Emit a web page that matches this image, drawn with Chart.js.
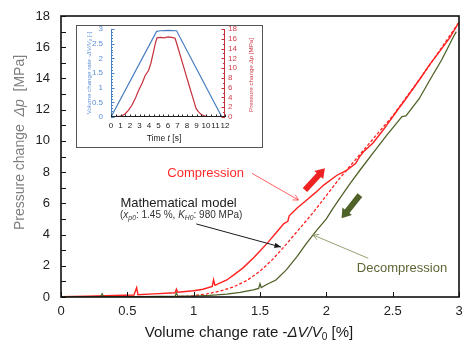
<!DOCTYPE html>
<html><head><meta charset="utf-8">
<script src="https://cdn.jsdelivr.net/npm/chart.js@4"></script>
<style>
html,body{margin:0;padding:0;background:#fff;}
#wrap{position:relative;width:468px;height:345px;overflow:hidden;background:#fff;}
#main{position:absolute;left:0;top:0;}
#insetBox{position:absolute;left:76px;top:25px;width:185px;height:121px;border:1px solid #555;background:#fff;}
#inset{position:absolute;left:0;top:0;}
</style></head><body>
<div id="wrap">
<canvas id="main" width="468" height="345"></canvas>
<div id="insetBox"><canvas id="inset" width="185" height="121"></canvas></div>
</div>
<script>
// ---------------- data (main chart) ----------------
const compV = [0, 0.2, 0.4, 0.55, 0.57, 0.58, 0.7, 0.86, 0.87, 0.88, 1.0, 1.07, 1.14, 1.15, 1.16, 1.25, 1.3, 1.37, 1.45, 1.5, 1.56, 1.62, 1.68, 1.71, 1.72, 1.78, 1.85, 1.92, 1.98, 2.08, 2.15, 2.22, 2.25, 2.28, 2.35, 2.42, 2.48, 2.53, 2.6, 2.7, 2.78, 2.86, 2.93, 3.0];
const compP = [0.02, 0.05, 0.1, 0.13, 0.6, 0.15, 0.2, 0.27, 0.5, 0.3, 0.4, 0.5, 0.68, 1.1, 0.75, 1.09, 1.4, 1.85, 2.5, 2.95, 3.5, 4.1, 4.7, 4.85, 5.2, 5.7, 6.2, 6.7, 7.17, 7.8, 8.1, 8.55, 8.98, 9.3, 9.85, 10.6, 11.3, 11.9, 12.7, 13.9, 14.9, 15.8, 16.6, 17.6];
const modelV = [0, 0.5, 0.9, 1.0, 1.1, 1.2, 1.3, 1.4, 1.5, 1.6, 1.7, 1.8, 1.9, 2.0, 2.1, 2.2, 2.3, 2.5, 2.75, 3.0];
const modelP = [0, 0, 0.02, 0.08, 0.2, 0.38, 0.65, 1.05, 1.65, 2.45, 3.4, 4.4, 5.4, 6.5, 7.6, 8.6, 9.6, 11.6, 14.5, 17.6];
const decV = [0, 0.3, 0.31, 0.32, 0.6, 0.86, 0.87, 0.88, 1.0, 1.12, 1.25, 1.35, 1.45, 1.49, 1.5, 1.51, 1.55, 1.62, 1.7, 1.78, 1.85, 1.93, 2.0, 2.05, 2.1, 2.18, 2.26, 2.35, 2.45, 2.55, 2.57, 2.6, 2.7, 2.78, 2.87, 2.96, 2.98];
const decP = [0, 0.02, 0.2, 0.02, 0.03, 0.05, 0.25, 0.05, 0.06, 0.1, 0.18, 0.3, 0.45, 0.55, 0.85, 0.6, 0.8, 1.09, 1.75, 2.6, 3.44, 4.3, 5.0, 5.68, 6.3, 7.28, 8.2, 9.2, 10.3, 11.35, 11.55, 11.6, 12.7, 13.9, 15.2, 16.7, 17.0];

// ---------------- data (inset) ----------------
const insetTimeV = [0, 4.8, 5.2, 6.0, 6.9, 11.67];
const insetVol = [0, 2.92, 2.94, 2.95, 2.94, 0];
const insetTimeP = [0, 0.5, 1.0, 1.2, 1.5, 1.8, 2.2, 2.6, 2.9, 3.3, 3.6, 3.95, 4.2, 4.47, 4.7, 4.85, 5.2, 5.6, 6.0, 6.4, 6.75, 7.2, 7.7, 8.2, 8.7, 8.96, 9.2, 9.5, 9.8, 10.2, 11, 12];
const insetP = [0, 0.1, 0.2, 0.3, 0.67, 1.3, 2.4, 4.0, 5.4, 7.0, 8.5, 9.5, 11.0, 13.3, 15.3, 16.2, 16.3, 16.2, 16.4, 16.3, 16.1, 13.2, 9.9, 6.6, 3.4, 1.7, 1.1, 0.5, 0.25, 0.1, 0.1, 0.05];

// axis ranges
const xMain = {min: 0, max: 3, step: 0.5};
const yMain = {min: 0, max: 18, step: 1, labelEvery: 2};

const FAM = "'Liberation Sans', Arial, Helvetica, sans-serif";
Chart.defaults.font.family = FAM;

const zip = (a, b) => a.map((v, i) => ({x: v, y: b[i]}));
const fmt = v => String(Math.round(v * 10) / 10);
const noGrid = {display: false, drawTicks: false};

function segFont(s, size) {
  return (s.it ? 'italic ' : '') + (s.sub ? size * 0.68 : size) + 'px ' + FAM;
}
function drawRich(ctx, segs, x, y, size, color, align) {
  let w = 0;
  for (const s of segs) { ctx.font = segFont(s, size); w += ctx.measureText(s.t).width; }
  let cx = align === 'center' ? x - w / 2 : (align === 'right' ? x - w : x);
  ctx.fillStyle = color; ctx.textBaseline = 'middle'; ctx.textAlign = 'left';
  for (const s of segs) {
    ctx.font = segFont(s, size);
    ctx.fillText(s.t, cx, y + (s.sub ? size * 0.3 : 0));
    cx += ctx.measureText(s.t).width;
  }
}
function arrowLine(ctx, x1, y1, x2, y2, color, lw, hl, filled) {
  const a = Math.atan2(y2 - y1, x2 - x1);
  ctx.save();
  ctx.strokeStyle = color; ctx.fillStyle = color; ctx.lineWidth = lw;
  ctx.beginPath(); ctx.moveTo(x1, y1); ctx.lineTo(x2, y2); ctx.stroke();
  const ha = filled ? 0.4 : 0.5;
  const p1 = [x2 - hl * Math.cos(a - ha), y2 - hl * Math.sin(a - ha)];
  const p2 = [x2 - hl * Math.cos(a + ha), y2 - hl * Math.sin(a + ha)];
  ctx.beginPath();
  if (filled) { ctx.moveTo(x2, y2); ctx.lineTo(p1[0], p1[1]); ctx.lineTo(p2[0], p2[1]); ctx.closePath(); ctx.fill(); }
  else { ctx.moveTo(p1[0], p1[1]); ctx.lineTo(x2, y2); ctx.lineTo(p2[0], p2[1]); ctx.stroke(); }
  ctx.restore();
}
function blockArrow(ctx, x1, y1, x2, y2, color, sw, hw, hl) {
  const a = Math.atan2(y2 - y1, x2 - x1);
  const L = Math.hypot(x2 - x1, y2 - y1);
  ctx.save(); ctx.translate(x1, y1); ctx.rotate(a);
  ctx.fillStyle = color;
  ctx.beginPath();
  ctx.moveTo(0, -sw / 2); ctx.lineTo(L - hl, -sw / 2); ctx.lineTo(L - hl, -hw / 2);
  ctx.lineTo(L, 0); ctx.lineTo(L - hl, hw / 2); ctx.lineTo(L - hl, sw / 2); ctx.lineTo(0, sw / 2);
  ctx.closePath(); ctx.fill();
  ctx.restore();
}

// ---------------- main chart ----------------
const mainDecor = {
  id: 'mainDecor',
  afterDraw(chart) {
    const ctx = chart.ctx, ca = chart.chartArea;
    const X = chart.scales.x, Y = chart.scales.y;
    const px = v => X.getPixelForValue(v), py = v => Y.getPixelForValue(v);
    ctx.save();
    // inside tick marks
    ctx.strokeStyle = '#111'; ctx.lineWidth = 1;
    for (const t of Y.ticks) {
      const y = Math.round(py(t.value)) + 0.5;
      ctx.beginPath(); ctx.moveTo(ca.left, y); ctx.lineTo(ca.left + 5, y); ctx.stroke();
    }
    for (const t of X.ticks) {
      const x = Math.round(px(t.value)) + 0.5;
      ctx.beginPath(); ctx.moveTo(x, ca.bottom); ctx.lineTo(x, ca.bottom - 5); ctx.stroke();
    }
    // frame
    ctx.lineWidth = 1.6; ctx.strokeStyle = '#111';
    ctx.strokeRect(ca.left, ca.top, ca.right - ca.left, ca.bottom - ca.top);

    // axis titles
    drawRich(ctx, [{t: 'Volume change rate -'}, {t: 'ΔV/V', it: true}, {t: '0', sub: true}, {t: ' [%]'}],
      (ca.left + ca.right) / 2 - 11, 333, 15, '#1a1a1a', 'center');
    ctx.save();
    ctx.translate(20, (ca.top + ca.bottom) / 2 - 14);
    ctx.rotate(-Math.PI / 2);
    drawRich(ctx, [{t: 'Pressure change  '}, {t: 'Δp', it: true}, {t: '  [MPa]'}], 0, 0, 14, '#7f7f7f', 'center');
    ctx.restore();

    // annotations (anchored in data coordinates)
    drawRich(ctx, [{t: 'Compression'}], px(1.379), py(7.94), 13, '#ff2a2a', 'right');
    arrowLine(ctx, px(1.44), py(7.92), px(1.79), py(6.21), '#ff5050', 0.9, 6, false);
    blockArrow(ctx, px(1.839), py(6.85), px(1.989), py(8.24), '#ee2222', 6, 12, 9);

    drawRich(ctx, [{t: 'Mathematical model'}], px(0.448), py(6.02), 13, '#1a1a1a', 'left');
    drawRich(ctx, [{t: '('}, {t: 'x', it: true}, {t: 'p0', it: true, sub: true}, {t: ': 1.45 %, '},
      {t: 'K', it: true}, {t: 'H0', it: true, sub: true}, {t: ': 980 MPa)'}], px(0.445), py(5.25), 10, '#333', 'left');
    arrowLine(ctx, px(1.02), py(4.68), px(1.658), py(3.20), '#1a1a1a', 1, 7, true);

    blockArrow(ctx, px(2.253), py(6.53), px(2.115), py(5.04), '#4f6228', 6, 12, 9);
    drawRich(ctx, [{t: 'Decompression'}], px(2.23), py(1.86), 13, '#5b6634', 'left');
    arrowLine(ctx, px(2.316), py(2.48), px(1.901), py(3.97), '#8a9560', 0.9, 6, false);
    ctx.restore();
  }
};

new Chart(document.getElementById('main'), {
  type: 'line',
  data: {
    datasets: [
      {data: zip(decV, decP), borderColor: '#4f6228', borderWidth: 1.3},
      {data: zip(modelV, modelP), borderColor: '#ff2020', borderWidth: 1.3, borderDash: [3, 2]},
      {data: zip(compV, compP), borderColor: '#ff2020', borderWidth: 1.4}
    ]
  },
  options: {
    responsive: false, animation: false,
    layout: {padding: {top: 16, right: 9, left: 0, bottom: 0}},
    elements: {point: {radius: 0}, line: {tension: 0}},
    plugins: {legend: {display: false}, tooltip: {enabled: false}},
    scales: {
      x: {
        type: 'linear', min: xMain.min, max: xMain.max,
        ticks: {stepSize: xMain.step, color: '#222', font: {size: 13}, padding: 7, maxRotation: 0, autoSkip: false, callback: fmt},
        grid: noGrid, border: {display: false},
        afterFit(s) { s.height = 48; s.paddingLeft = 0; s.paddingRight = 0; }
      },
      y: {
        type: 'linear', min: yMain.min, max: yMain.max,
        ticks: {stepSize: yMain.step, autoSkip: false, color: '#222', font: {size: 13}, padding: 11,
          callback: v => (v % yMain.labelEvery === 0 ? fmt(v) : '')},
        grid: noGrid, border: {display: false},
        afterFit(s) { s.width = 61; s.paddingTop = 0; s.paddingBottom = 0; }
      }
    }
  },
  plugins: [mainDecor]
});

// ---------------- inset chart ----------------
const BLUE = '#4a7fc1', BLUE_T = '#5b8fd6', RED = '#c4303c', RED_T = '#d0404e';
const insetDecor = {
  id: 'insetDecor',
  afterDraw(chart) {
    const ctx = chart.ctx, ca = chart.chartArea;
    const X = chart.scales.x, Y = chart.scales.y, Y2 = chart.scales.y2;
    ctx.save();
    ctx.lineWidth = 1;
    // left axis (blue)
    ctx.strokeStyle = BLUE;
    ctx.beginPath(); ctx.moveTo(ca.left + 0.5, ca.top); ctx.lineTo(ca.left + 0.5, ca.bottom); ctx.stroke();
    for (let i = 0; i <= 30; i++) {
      const y = Math.round(Y.getPixelForValue(i / 10)) + 0.5;
      const len = i % 5 === 0 ? 3.5 : 2;
      ctx.beginPath(); ctx.moveTo(ca.left, y); ctx.lineTo(ca.left + len, y); ctx.stroke();
    }
    // right axis (red)
    ctx.strokeStyle = RED;
    ctx.beginPath(); ctx.moveTo(ca.right - 0.5, ca.top); ctx.lineTo(ca.right - 0.5, ca.bottom); ctx.stroke();
    for (let i = 0; i <= 18; i++) {
      const y = Math.round(Y2.getPixelForValue(i)) + 0.5;
      const len = i % 2 === 0 ? 3.5 : 2;
      ctx.beginPath(); ctx.moveTo(ca.right, y); ctx.lineTo(ca.right - len, y); ctx.stroke();
    }
    // bottom axis (black)
    ctx.strokeStyle = '#222';
    ctx.beginPath(); ctx.moveTo(ca.left, ca.bottom - 0.5); ctx.lineTo(ca.right, ca.bottom - 0.5); ctx.stroke();
    for (let i = 0; i <= 24; i++) {
      const x = Math.round(X.getPixelForValue(i / 2)) + 0.5;
      ctx.beginPath(); ctx.moveTo(x, ca.bottom); ctx.lineTo(x, ca.bottom - 2.5); ctx.stroke();
    }
    // titles
    drawRich(ctx, [{t: 'Time '}, {t: 't', it: true}, {t: ' [s]'}], (ca.left + ca.right) / 2 - 4, 113, 8.5, '#222', 'center');
    ctx.save(); ctx.translate(12, (ca.top + ca.bottom) / 2);
    ctx.rotate(-Math.PI / 2);
    drawRich(ctx, [{t: 'Volume change rate -'}, {t: 'ΔV/V', it: true}, {t: '0', sub: true}, {t: ' [-]'}], 0, 0, 6.2, BLUE_T, 'center');
    ctx.restore();
    ctx.save(); ctx.translate(174, (ca.top + ca.bottom) / 2 + 2);
    ctx.rotate(-Math.PI / 2);
    drawRich(ctx, [{t: 'Pressure change '}, {t: 'Δp', it: true}, {t: ' [MPa]'}], 0, 0, 6.2, RED_T, 'center');
    ctx.restore();
    ctx.restore();
  }
};

new Chart(document.getElementById('inset'), {
  type: 'line',
  data: {
    datasets: [
      {data: zip(insetTimeV, insetVol), borderColor: BLUE, borderWidth: 1.2, yAxisID: 'y'},
      {data: zip(insetTimeP, insetP), borderColor: RED, borderWidth: 1.2, yAxisID: 'y2'}
    ]
  },
  options: {
    responsive: false, animation: false,
    layout: {padding: {top: 3, right: 0, left: 0, bottom: 0}},
    elements: {point: {radius: 0}, line: {tension: 0}},
    plugins: {legend: {display: false}, tooltip: {enabled: false}},
    scales: {
      x: {
        type: 'linear', min: 0, max: 12,
        ticks: {stepSize: 1, autoSkip: false, maxRotation: 0, color: '#222', font: {size: 8}, padding: 4, callback: fmt},
        grid: noGrid, border: {display: false},
        afterFit(s) { s.height = 30; s.paddingLeft = 0; s.paddingRight = 0; }
      },
      y: {
        type: 'linear', position: 'left', min: 0, max: 3,
        ticks: {stepSize: 0.5, autoSkip: false, color: BLUE_T, font: {size: 8}, padding: 8, callback: fmt},
        grid: noGrid, border: {display: false},
        afterFit(s) { s.width = 34; s.paddingTop = 0; s.paddingBottom = 0; }
      },
      y2: {
        type: 'linear', position: 'right', min: 0, max: 18,
        ticks: {stepSize: 2, autoSkip: false, color: RED_T, font: {size: 8}, padding: 3, callback: fmt},
        grid: noGrid, border: {display: false},
        afterFit(s) { s.width = 37; s.paddingTop = 0; s.paddingBottom = 0; }
      }
    }
  },
  plugins: [insetDecor]
});
</script>
</body></html>
